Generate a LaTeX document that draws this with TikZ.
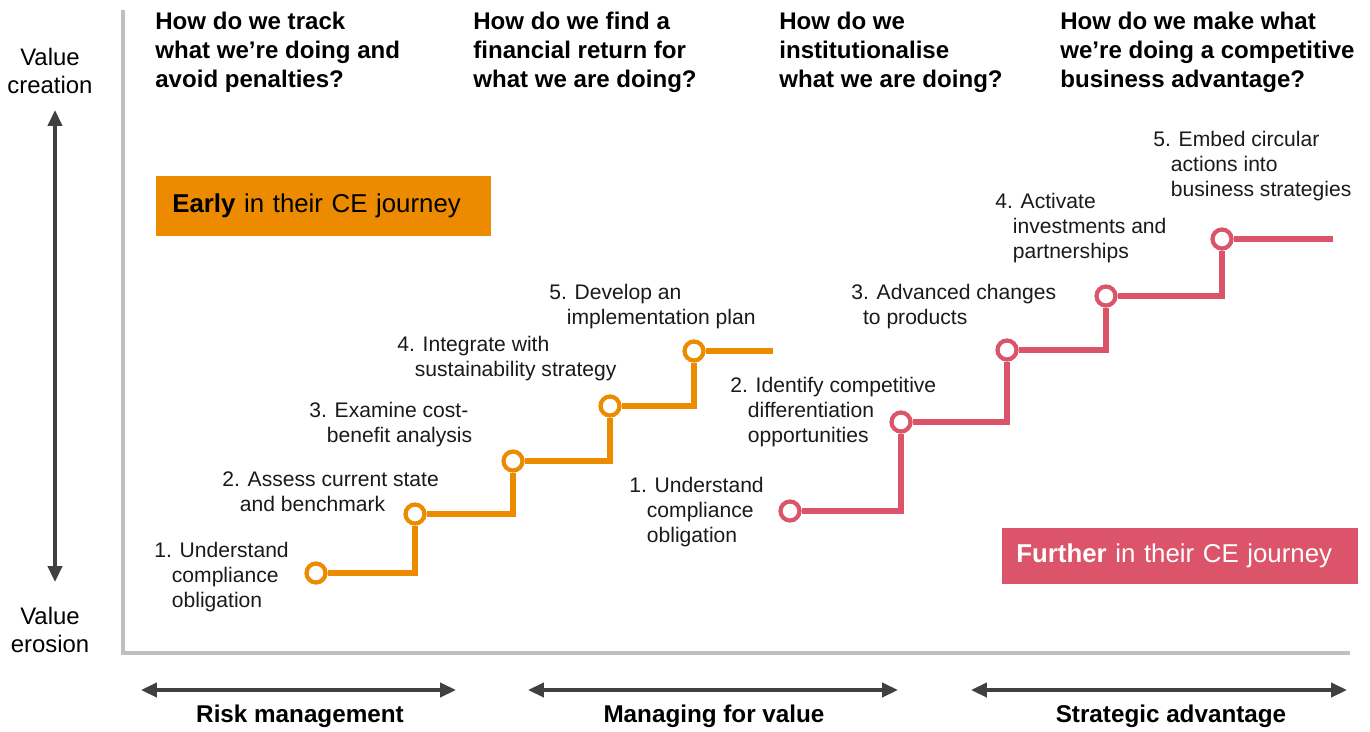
\documentclass[tikz,border=0pt]{standalone}
\usepackage{fontspec}
\setmainfont{Liberation Sans}
\usepackage{tikz}
\usetikzlibrary{arrows.meta,positioning,backgrounds}
\definecolor{ceOrange}{HTML}{EC8B00}
\definecolor{cePink}{HTML}{DC5469}
\definecolor{axisGrey}{HTML}{BFBFBF}
\definecolor{arrowGrey}{HTML}{404040}
\definecolor{textDark}{HTML}{1A1A1A}
\newcommand{\indt}{\phantom{1.}}
\tikzset{
  question/.style={
    anchor=north west, inner sep=0pt, align=left,
    font=\fontsize{13.7}{16.5}\selectfont\bfseries
  },
  stagelabel/.style={
    anchor=north west, inner sep=0pt, align=left,
    font=\fontsize{12}{14.3}\selectfont, text=textDark
  },
  stagedot/.style={
    circle, draw=#1, fill=white, line width=2.4pt,
    minimum size=0.38cm, inner sep=0pt
  },
  stairline/.style={draw=#1, line width=3.1pt},
  journey/.style={
    anchor=west, align=left, inner ysep=0pt,
    font=\fontsize{14.7}{18}\selectfont
  },
  twoway/.style={{Triangle[length=9pt,width=8pt]}-{Triangle[length=9pt,width=8pt]},
    line width=1.9pt, draw=arrowGrey},
  axisline/.style={draw=axisGrey, line width=1.9pt},
  valuelabel/.style={align=center, font=\fontsize{13.6}{16}\selectfont},
  rangelabel/.style={font=\fontsize{13.8}{16}\selectfont\bfseries}
}

\begin{document}
\begin{tikzpicture}[x=0.02cm, y=-0.02cm]
  \useasboundingbox (0,0) rectangle (1370,731);

  % --- axes
  \coordinate (axtop) at (123,10);
  \coordinate (axend) at (1350,653);
  \draw[axisline] (axtop) |- (axend);

  % --- value scale on the left
  \coordinate (vtop) at (55,110);
  \coordinate (vbot) at (55,582);
  \draw[twoway] (vtop) -- (vbot);
  \node[valuelabel] (vcreate) at (50,71)  {Value\\creation};
  \node[valuelabel] (verode)  at (50,630) {Value\\erosion};

  % --- questions on top
  \node[question] (q1) at (155,12)  {How do we track\\what we’re doing and\\avoid penalties?};
  \node[question] (q2) at (473,12)  {How do we find a\\financial return for\\what we are doing?};
  \node[question] (q3) at (779,12)  {How do we\\institutionalise\\what we are doing?};
  \node[question] (q4) at (1060,12) {How do we make what\\we’re doing a competitive\\business advantage?};

  % --- journey boxes
  \node[journey, fill=ceOrange, text=black, text width=6.06cm,
        inner xsep=0.32cm, minimum height=1.2cm] (early) at (156,206)
        {\textbf{Early} in their CE journey};
  \node[journey, fill=cePink, text=white, text width=6.56cm,
        inner xsep=0.28cm, minimum height=1.12cm] (further) at (1002,556)
        {\textbf{Further} in their CE journey};

  % --- early staircase
  \node[stagedot=ceOrange] (o1) at (316,573) {};
  \node[stagedot=ceOrange] (o2) at (415,514) {};
  \node[stagedot=ceOrange] (o3) at (513,461) {};
  \node[stagedot=ceOrange] (o4) at (610,406) {};
  \node[stagedot=ceOrange] (o5) at (694,351) {};
  \coordinate (oend) at (773,351);

  \node[stagelabel] (ol1) at (154,542) {1. Understand\\\indt compliance\\\indt obligation};
  \node[stagelabel] (ol2) at (222,471) {2. Assess current state\\\indt and benchmark};
  \node[stagelabel] (ol3) at (309,402) {3. Examine cost-\\\indt benefit analysis};
  \node[stagelabel] (ol4) at (397,336) {4. Integrate with\\\indt sustainability strategy};
  \node[stagelabel] (ol5) at (549,284) {5. Develop an\\\indt implementation plan};

  % --- further staircase
  \node[stagedot=cePink] (p1) at (790,511)  {};
  \node[stagedot=cePink] (p2) at (901,422)  {};
  \node[stagedot=cePink] (p3) at (1007,350) {};
  \node[stagedot=cePink] (p4) at (1106,296) {};
  \node[stagedot=cePink] (p5) at (1222,239) {};
  \coordinate (pend) at (1333,239);

  \node[stagelabel] (pl1) at (629,477)  {1. Understand\\\indt compliance\\\indt obligation};
  \node[stagelabel] (pl2) at (730,377)  {2. Identify competitive\\\indt differentiation\\\indt opportunities};
  \node[stagelabel] (pl3) at (851,284)  {3. Advanced changes\\\phantom{3}to products};
  \node[stagelabel] (pl4) at (995,193)  {4. Activate\\\indt investments and\\\indt partnerships};
  \node[stagelabel] (pl5) at (1153,131) {5. Embed circular\\\indt actions into\\\indt business strategies};

  \begin{pgfonlayer}{background}
    \draw[stairline=ceOrange] (o1) -| (o2) -| (o3) -| (o4) -| (o5) -- (oend);
    \draw[stairline=cePink]   (p1) -| (p2) -| (p3) -| (p4) -| (p5) -- (pend);
  \end{pgfonlayer}

  % --- ranges at the bottom
  \coordinate (r1) at (141,690);  \coordinate (r2) at (456,690);
  \coordinate (m1) at (528,690);  \coordinate (m2) at (898,690);
  \coordinate (s1) at (971,690);  \coordinate (s2) at (1347,690);
  \draw[twoway] (r1) -- (r2);
  \draw[twoway] (m1) -- (m2);
  \draw[twoway] (s1) -- (s2);
  \node[rangelabel] (risk)  at (300,716)  {Risk management};
  \node[rangelabel] (value) at (714,716)  {Managing for value};
  \node[rangelabel] (strat) at (1171,716) {Strategic advantage};
\end{tikzpicture}
\end{document}
